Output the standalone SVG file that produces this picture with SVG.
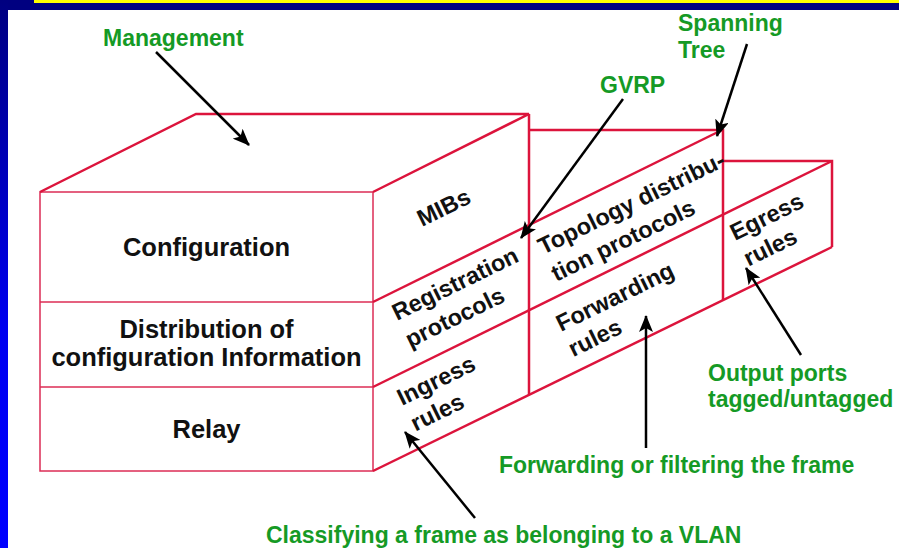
<svg xmlns="http://www.w3.org/2000/svg" width="899" height="548" viewBox="0 0 899 548">
<defs>
<linearGradient id="side" x1="0" y1="0" x2="0" y2="1">
<stop offset="0" stop-color="#000080"/>
<stop offset="0.6" stop-color="#0000f0"/>
<stop offset="1" stop-color="#0000ff"/>
</linearGradient>
<marker id="ah" markerUnits="userSpaceOnUse" markerWidth="18" markerHeight="14" refX="16" refY="7" orient="auto">
<path d="M0,0 L17,7 L0,14 L4,7 z" fill="#000"/>
</marker>
<style>
.thin{stroke:#dc2c55;stroke-width:1.5;fill:none}
.thick{stroke:#dc143c;stroke-width:2.5;fill:none}
.front{font-family:"Liberation Sans",Arial,sans-serif;font-weight:bold;font-size:25.5px;fill:#111;text-anchor:middle}
.side{font-family:"Liberation Sans",Arial,sans-serif;font-weight:bold;font-size:23.5px;fill:#111}
.green{font-family:"Liberation Sans",Arial,sans-serif;font-weight:bold;font-size:23px;fill:#159a25}
.arr{stroke:#000;stroke-width:2.5;fill:none;marker-end:url(#ah)}
</style>
</defs>
<rect width="899" height="548" fill="#fff"/>
<rect x="0" y="0" width="899" height="10" fill="#000080"/>
<rect x="34" y="0" width="865" height="3" fill="#ffff00"/>
<rect x="0" y="0" width="8" height="548" fill="url(#side)"/>

<g id="box-lines">
<rect class="thin" x="40" y="192" width="333" height="279"/>
<line class="thin" x1="40" y1="302" x2="373" y2="302"/>
<line class="thin" x1="40" y1="387" x2="373" y2="387"/>
<polyline class="thick" points="40,192 196,114 529,114 373,192"/>
<line class="thick" x1="529" y1="114" x2="529" y2="395"/>
<line class="thick" x1="373" y1="302" x2="722" y2="130"/>
<polyline class="thick" points="529,130 723,130 723,300"/>
<line class="thick" x1="373" y1="387" x2="832" y2="161"/>
<polyline class="thick" points="723,161 832,161 832,247"/>
<line class="thick" x1="373" y1="471" x2="832" y2="247"/>
</g>

<g id="configuration"><text class="front" x="206.5" y="256">Configuration</text></g>
<g id="distribution"><text class="front" x="206.5" y="338">Distribution of</text><text class="front" x="206.5" y="366">configuration Information</text></g>
<g id="relay"><text class="front" x="206.5" y="438">Relay</text></g>

<g id="mibs"><text class="side" transform="translate(422,227) rotate(-26)">MIBs</text></g>
<g id="registration"><g transform="translate(397,321) rotate(-26)"><text class="side" x="0" y="0">Registration</text><text class="side" x="0" y="30">protocols</text></g></g>
<g id="ingress"><g transform="translate(402,406) rotate(-26)"><text class="side" x="0" y="0">Ingress</text><text class="side" x="1" y="29">rules</text></g></g>
<g id="topology"><g transform="translate(543,255) rotate(-26)"><text class="side" x="0" y="0">Topology distribu-</text><text class="side" x="0" y="30">tion protocols</text></g></g>
<g id="forwarding"><g transform="translate(561,332) rotate(-26)"><text class="side" x="0" y="0">Forwarding</text><text class="side" x="0" y="28">rules</text></g></g>
<g id="egress"><g transform="translate(735,241) rotate(-26)"><text class="side" x="0" y="0">Egress</text><text class="side" x="1" y="29">rules</text></g></g>

<g id="management"><text class="green" x="103" y="46">Management</text></g>
<g id="gvrp"><text class="green" x="600" y="93">GVRP</text></g>
<g id="spanning"><text class="green" x="678" y="31">Spanning</text><text class="green" x="678" y="58">Tree</text></g>
<g id="output"><text class="green" x="708" y="381">Output ports</text><text class="green" x="708" y="407">tagged/untagged</text></g>
<g id="fwd-filter"><text class="green" x="499" y="473">Forwarding or filtering the frame</text></g>
<g id="classify"><text class="green" x="266" y="543">Classifying a frame as belonging to a VLAN</text></g>

<g id="connectors">
<line class="arr" x1="156" y1="52" x2="249" y2="145"/>
<line class="arr" x1="623" y1="99" x2="521" y2="238"/>
<line class="arr" x1="747" y1="44" x2="717" y2="136"/>
<line class="arr" x1="801" y1="355" x2="746" y2="268"/>
<line class="arr" x1="646" y1="448" x2="646" y2="316"/>
<line class="arr" x1="475" y1="518" x2="405" y2="432"/>
</g>
</svg>
